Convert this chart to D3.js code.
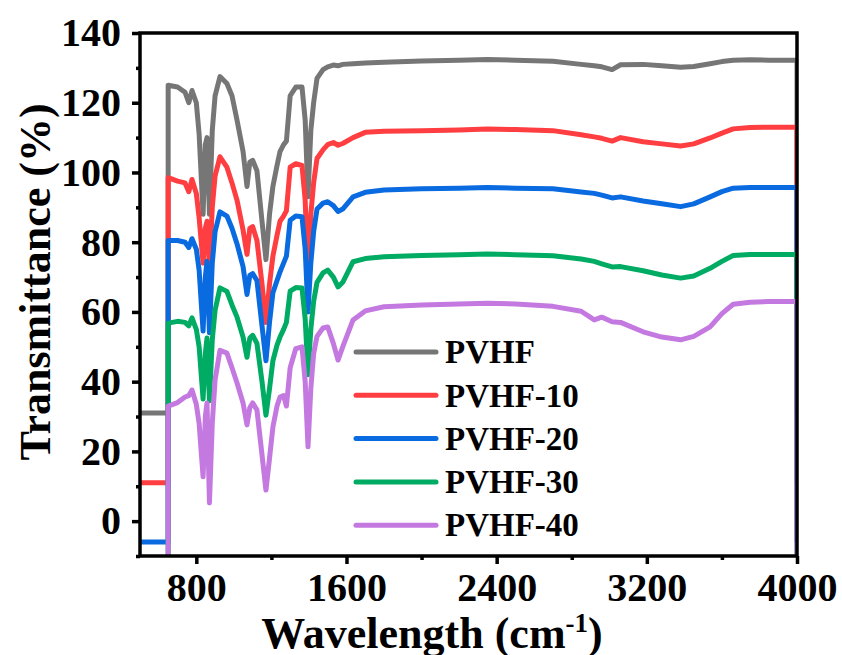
<!DOCTYPE html>
<html>
<head>
<meta charset="utf-8">
<script src="https://cdn.jsdelivr.net/npm/d3@7"></script>
<style>
  body { margin: 0; background: #fff; }
  text { font-family: "Liberation Serif", "Times New Roman", serif; font-weight: bold; fill: #000; }
</style>
</head>
<body>
<svg width="842" height="655"></svg>
<script>
let width = 842, height = 655;

// wavenumbers (cm-1) shared by all spectra
const wn = [500, 650, 650, 700, 740, 760, 777, 800, 815, 836, 848, 857, 870, 885, 900, 926, 963, 990, 1017, 1049,
  1070, 1085, 1100, 1123, 1150, 1171, 1190, 1208, 1230, 1246, 1265, 1280, 1300, 1330, 1363, 1380, 1395, 1410, 1425, 1443,
  1475, 1500, 1530, 1555, 1580, 1635, 1700, 1800, 2000, 2200, 2350, 2500, 2700, 2850, 2920, 2960, 3015, 3060, 3180, 3280,
  3380, 3450, 3537, 3600, 3660, 3750, 3850, 3990, 4000, 4000];

const pvhf = [31, 31, 125, 124.5, 123, 120, 123.5, 120, 111, 88, 108, 110, 88, 112, 122, 127.5, 125.5, 122, 115, 106,
  96, 103, 103.5, 100.5, 86, 75, 88, 96, 102, 106, 108, 109, 122, 124.5, 124.5, 115, 93, 112, 120, 127,
  129.5, 130.3, 130.8, 130.6, 131, 131.2, 131.4, 131.6, 132, 132.2, 132.4, 132.2, 131.9, 131, 130.6, 130.3, 129.5, 130.9, 131, 130.6,
  130.2, 130.4, 131.2, 131.8, 132.2, 132.3, 132.2, 132.2, 132.2, 31];

const pvhf10 = [11, 11, 98.5, 97.5, 97, 94.5, 98, 94, 87, 74, 84, 86, 72, 90, 99, 104.5, 101.5, 97, 92, 83.5,
  76.5, 84, 84.5, 80.5, 68, 57, 68, 76, 82, 86, 87.5, 89, 101.5, 102.5, 102, 92, 70, 88, 97, 104,
  106.5, 108, 108.6, 107.8, 108.3, 110, 111.5, 111.8, 112, 112.2, 112.5, 112.3, 112, 110.8, 110.2, 109.8, 109, 110, 108.8, 108.2,
  107.6, 108.2, 109.9, 111.3, 112.5, 112.9, 113, 113, 113, 11];

const pvhf20 = [-6, -6, 80.5, 80.5, 80, 78.5, 81, 78, 72, 54.5, 70, 74.5, 54, 74, 83, 88.7, 87.5, 84, 79.5, 73,
  65, 70.5, 71, 69, 56, 46, 57, 65.5, 69, 71.5, 74, 76, 86.3, 87.5, 87.3, 78, 60, 74, 83, 89.5,
  91.2, 91.6, 90.5, 88.8, 89.5, 93, 94.3, 95, 95.3, 95.5, 95.7, 95.5, 95.3, 94.4, 94, 93.5, 92.7, 93, 91.8, 91,
  90.2, 91, 93, 94.5, 95.5, 95.7, 95.7, 95.7, 95.7, -6];

const pvhf30 = [-20, -20, 56.8, 57.3, 57, 56, 58.3, 55, 50, 35, 48, 52.5, 34.5, 52, 60.5, 66.9, 65.9, 62, 58.5, 52.8,
  47, 52.5, 53.3, 51, 40, 30.4, 38, 46, 50.5, 52.8, 55, 57, 66, 67, 66.9, 58, 42, 55, 63, 68.5,
  71.2, 72, 70, 67.2, 68.5, 74.4, 75.3, 75.8, 76.2, 76.4, 76.6, 76.4, 76.1, 75.2, 74.5, 73.8, 72.9, 73, 71.8, 70.6,
  69.7, 70.3, 72.5, 74.5, 76.2, 76.5, 76.5, 76.5, 76.5, -20];

const pvhf40 = [-30, -30, 33, 34, 35.6, 36, 37.6, 33.5, 28, 12.7, 30, 33.9, 5.2, 28, 40.5, 49, 48.2, 44, 39.6, 33.9,
  27.6, 32.5, 33.9, 31.9, 19, 8.9, 18, 27, 33, 35.6, 36, 33, 44, 49.5, 50, 40, 21.3, 38, 48, 53,
  55.4, 55.7, 51, 46.2, 50, 57.7, 60.3, 61.5, 62, 62.3, 62.5, 62.3, 61.6, 60.2, 57.7, 58.5, 57.2, 57, 54.3, 52.8,
  52, 53, 55.7, 59.5, 62.2, 62.8, 63, 63, 63, -30];

const seriesNames = ["PVHF", "PVHF-10", "PVHF-20", "PVHF-30", "PVHF-40"];
const seriesVals = [pvhf, pvhf10, pvhf20, pvhf30, pvhf40];
const colors = ["#767676", "#fe3e40", "#0a6ae0", "#00ab63", "#c479e0"];

const xTicks = [800, 1600, 2400, 3200, 4000];
const xMinor = [1200, 2000, 2800, 3600];
const yTicks = [0, 20, 40, 60, 80, 100, 120, 140];
const yMinor = [-10, 10, 30, 50, 70, 90, 110, 130];

let pLeft = 140, pRight = 797, pTop = 33, pBottom = 556;

let svg = d3.select("svg");

let x = d3.scaleLinear().domain([500, 4000]).range([pLeft, pRight]);
let y = d3.scaleLinear().domain([-10, 140]).range([pBottom, pTop]);

svg.append("clipPath").attr("id", "clip")
  .append("rect").attr("x", pLeft).attr("y", pTop).attr("width", pRight - pLeft).attr("height", pBottom - pTop);

// spectra
let line = d3.line().x(d => x(d[0])).y(d => y(d[1]));
let g = svg.append("g").attr("clip-path", "url(#clip)");
seriesVals.forEach((vals, i) => {
  g.append("path")
    .datum(wn.map((w, j) => [w, vals[j]]))
    .attr("d", line)
    .attr("fill", "none")
    .attr("stroke", colors[i])
    .attr("stroke-width", 5)
    .attr("stroke-linejoin", "round");
});

// axes
let xAxis = svg.append("g").attr("transform", "translate(0," + pBottom + ")")
  .call(d3.axisBottom(x).tickValues(xTicks).tickSize(8).tickPadding(10).tickFormat(d3.format("d")));
let xAxisMinor = svg.append("g").attr("transform", "translate(0," + pBottom + ")")
  .call(d3.axisBottom(x).tickValues(xMinor).tickSize(4).tickFormat(""));
let yAxis = svg.append("g").attr("transform", "translate(" + pLeft + ",0)")
  .call(d3.axisLeft(y).tickValues(yTicks).tickSize(8).tickPadding(11));
let yAxisMinor = svg.append("g").attr("transform", "translate(" + pLeft + ",0)")
  .call(d3.axisLeft(y).tickValues(yMinor).tickSize(4).tickFormat(""));

[xAxis, xAxisMinor, yAxis, yAxisMinor].forEach(a => {
  a.select(".domain").remove();
  a.selectAll("line").attr("stroke", "#000").attr("stroke-width", 3.5);
  a.selectAll("text").style("font-size", "40px").attr("fill", "#000");
});
xAxis.selectAll("text").attr("dy", "0.68em");

svg.append("rect")
  .attr("x", pLeft).attr("y", pTop).attr("width", pRight - pLeft).attr("height", pBottom - pTop)
  .attr("fill", "none").attr("stroke", "#000").attr("stroke-width", 3.5);

// axis titles
let xt = svg.append("text")
  .attr("x", 432).attr("y", 648)
  .attr("text-anchor", "middle")
  .style("font-size", "44px");
xt.append("tspan").text("Wavelength (cm");
xt.append("tspan").text("-1").attr("dy", -16).style("font-size", "27px");
xt.append("tspan").text(")").attr("dy", 16);

svg.append("text")
  .attr("transform", "translate(50,282) rotate(-90)")
  .attr("text-anchor", "middle")
  .style("font-size", "44px")
  .text("Transmittance (%)");

// legend
let legend = svg.append("g");
seriesNames.forEach((name, i) => {
  let ly = 352 + i * 43.3;
  legend.append("line")
    .attr("x1", 356).attr("x2", 436).attr("y1", ly).attr("y2", ly)
    .attr("stroke", colors[i]).attr("stroke-width", 5).attr("stroke-linecap", "round");
  legend.append("text")
    .attr("x", 445).attr("y", ly).attr("dy", "0.34em")
    .style("font-size", "33px")
    .text(name);
});
</script>
</body>
</html>
